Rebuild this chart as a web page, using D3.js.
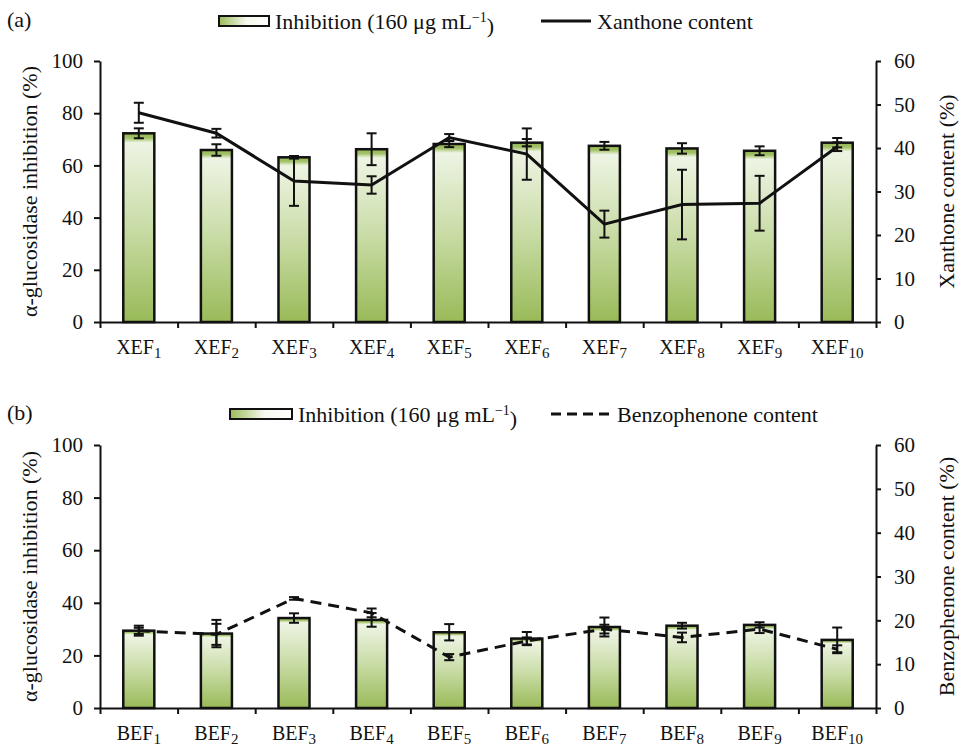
<!DOCTYPE html>
<html>
<head>
<meta charset="utf-8">
<script src="https://cdn.jsdelivr.net/npm/d3@7/dist/d3.min.js"></script>
<style>
  body { margin: 0; background: #fff; }
  svg text { font-family: "Liberation Serif", "Times New Roman", serif; fill: #111; }
</style>
</head>
<body>
<div id="chart"></div>
<script>
// ---- data ----
var catsA = ["XEF1", "XEF2", "XEF3", "XEF4", "XEF5", "XEF6", "XEF7", "XEF8", "XEF9", "XEF10"];
var inhibA = [72.3, 65.9, 63.1, 66.2, 68.2, 68.7, 67.5, 66.5, 65.6, 68.7];
var inhibErrA = [1.9, 2.2, 0.5, 6.1, 1.2, 1.4, 1.5, 2.0, 1.7, 1.8];
var xanthone = [48.1, 43.4, 32.4, 31.5, 42.4, 38.6, 22.5, 27.0, 27.3, 40.3];
var xanthoneErr = [2.3, 1.0, 5.7, 2.0, 0.8, 5.9, 3.1, 8.0, 6.3, 1.0];

var catsB = ["BEF1", "BEF2", "BEF3", "BEF4", "BEF5", "BEF6", "BEF7", "BEF8", "BEF9", "BEF10"];
var inhibB = [29.4, 28.3, 34.2, 33.5, 28.8, 26.4, 30.8, 31.3, 31.6, 25.9];
var inhibErrB = [1.9, 5.2, 1.8, 2.6, 3.1, 2.5, 3.6, 1.1, 1.0, 4.7];
var benzo = [17.6, 16.8, 25.0, 21.7, 11.6, 15.3, 18.0, 16.1, 18.0, 13.4];
var benzoErr = [0.7, 2.4, 0.3, 1.0, 0.7, 0.8, 1.0, 1.1, 0.9, 0.9];

var leftTicks = [0, 20, 40, 60, 80, 100];
var rightTicks = [0, 10, 20, 30, 40, 50, 60];

var W = 959, H = 747;
var svg = d3.select("#chart").append("svg")
    .attr("width", W).attr("height", H);

var defs = svg.append("defs");
// vertical gradient for bars (dark strip at very top, then light, then green)
var g1 = defs.append("linearGradient").attr("id", "barGrad")
    .attr("x1", 0).attr("y1", 0).attr("x2", 0).attr("y2", 1);
[[0, "#93b552"], [0.025, "#a3c267"], [0.05, "#eef4e4"], [0.5, "#c9dca6"], [1, "#99ba58"]]
  .forEach(function (s) { g1.append("stop").attr("offset", s[0]).attr("stop-color", s[1]); });
// horizontal gradient for legend swatch
var g2 = defs.append("linearGradient").attr("id", "legGrad")
    .attr("x1", 0).attr("y1", 0).attr("x2", 1).attr("y2", 0);
[[0, "#9bbb59"], [0.55, "#f4f8ee"], [1, "#ffffff"]]
  .forEach(function (s) { g2.append("stop").attr("offset", s[0]).attr("stop-color", s[1]); });

var x0 = 100, x1 = 876;

function drawPanel(p) {
  var yL = d3.scaleLinear().domain([0, 100]).range([p.bot, p.top]);
  var yR = d3.scaleLinear().domain([0, 60]).range([p.bot, p.top]);
  var x = d3.scaleBand().domain(p.cats).range([x0, x1])
      .paddingInner(0.6).paddingOuter(0.3);
  var xEdge = d3.scaleLinear().domain([0, p.cats.length]).range([x0, x1]);

  var g = svg.append("g");

  // bars
  g.selectAll("rect.bar").data(p.cats).enter().append("rect")
    .attr("class", "bar")
    .attr("x", function (d) { return x(d); })
    .attr("y", function (d, i) { return yL(p.bars[i]); })
    .attr("width", x.bandwidth())
    .attr("height", function (d, i) { return p.bot - yL(p.bars[i]); })
    .attr("fill", "url(#barGrad)")
    .attr("stroke", "#111").attr("stroke-width", 2.5);

  // error bars
  function errBars(vals, errs, scale) {
    var eg = g.append("g").attr("stroke", "#111").attr("stroke-width", 2);
    p.cats.forEach(function (c, i) {
      var cx = x(c) + x.bandwidth() / 2;
      var ya = scale(vals[i] + errs[i]), yb = scale(vals[i] - errs[i]);
      eg.append("line").attr("x1", cx).attr("x2", cx).attr("y1", ya).attr("y2", yb);
      eg.append("line").attr("x1", cx - 5).attr("x2", cx + 5).attr("y1", ya).attr("y2", ya);
      eg.append("line").attr("x1", cx - 5).attr("x2", cx + 5).attr("y1", yb).attr("y2", yb);
    });
  }
  errBars(p.bars, p.barErr, yL);

  // content line
  var line = d3.line()
    .x(function (d, i) { return x(p.cats[i]) + x.bandwidth() / 2; })
    .y(function (d) { return yR(d); });
  g.append("path").datum(p.line)
    .attr("d", line)
    .attr("fill", "none").attr("stroke", "#111").attr("stroke-width", 3)
    .attr("stroke-dasharray", p.dashed ? "11,7" : null);
  errBars(p.line, p.lineErr, yR);

  // left axis
  var la = g.append("g").attr("transform", "translate(" + x0 + ",0)")
    .call(d3.axisLeft(yL).tickValues(leftTicks).tickSize(6).tickSizeOuter(0).tickPadding(11));
  // right axis
  var ra = g.append("g").attr("transform", "translate(" + x1 + ",0)")
    .call(d3.axisRight(yR).tickValues(rightTicks).tickSize(5).tickSizeOuter(0).tickPadding(13));
  // bottom axis: ticks at band edges
  var ba = g.append("g").attr("transform", "translate(0," + p.bot + ")")
    .call(d3.axisBottom(xEdge).tickValues(d3.range(p.cats.length + 1)).tickSize(6)
      .tickSizeOuter(0).tickFormat(""));
  // category labels with subscripts
  var lab = g.append("g").attr("transform", "translate(0," + p.bot + ")")
    .call(d3.axisBottom(x).tickSize(0).tickPadding(18));
  lab.select(".domain").remove();
  lab.selectAll("text").each(function (d) {
    var t = d3.select(this).text(null);
    var m = d.match(/^([A-Z]+)(\d+)$/);
    t.append("tspan").text(m[1]);
    t.append("tspan").attr("dy", "0.22em").attr("font-size", "15px").text(m[2]);
  }).attr("font-size", "20px").attr("fill", "#111");

  [la, ra, ba].forEach(function (a) {
    a.selectAll("path, line").attr("stroke", "#111").attr("stroke-width", 2);
    a.selectAll("text").attr("font-size", "21px").attr("fill", "#111");
  });

  var midY = (p.top + p.bot) / 2;
  svg.append("text").attr("transform", "translate(37," + midY + ") rotate(-90)")
    .attr("text-anchor", "middle").attr("font-size", "22px").text("\u03b1-glucosidase inhibition (%)");
  svg.append("text").attr("transform", "translate(954," + midY + ") rotate(-90)")
    .attr("text-anchor", "middle").attr("font-size", "22px").text(p.rightTitle);

  svg.append("text").attr("x", 7).attr("y", p.labelY).attr("font-size", "22px").text(p.label);

  // legend
  var lg = svg.append("g");
  lg.append("rect").attr("x", p.leg.box).attr("y", p.leg.y - 5).attr("width", p.leg.boxW).attr("height", 10)
    .attr("fill", "url(#legGrad)").attr("stroke", "#111").attr("stroke-width", 2);
  var lt = lg.append("text").attr("x", p.leg.box + p.leg.boxW + 6).attr("y", p.leg.y + 8).attr("font-size", "22px");
  lt.append("tspan").text("Inhibition (160 \u03bcg mL");
  lt.append("tspan").attr("dy", "-0.5em").attr("font-size", "14px").text("\u22121");
  lt.append("tspan").attr("dy", "0.5em").text(")");
  lg.append("line").attr("x1", p.leg.line).attr("x2", p.leg.line + p.leg.lineW)
    .attr("y1", p.leg.y).attr("y2", p.leg.y)
    .attr("stroke", "#111").attr("stroke-width", 3)
    .attr("stroke-dasharray", p.dashed ? "10,6" : null);
  lg.append("text").attr("x", p.leg.line + p.leg.lineW + 6).attr("y", p.leg.y + 8).attr("font-size", "22px")
    .text(p.lineName);
}

drawPanel({
  cats: catsA, bars: inhibA, barErr: inhibErrA, line: xanthone, lineErr: xanthoneErr,
  top: 61, bot: 322, dashed: false, rightTitle: "Xanthone content (%)",
  label: "(a)", labelY: 27, lineName: "Xanthone content",
  leg: { y: 21, box: 219, boxW: 50, line: 541, lineW: 50 }
});
drawPanel({
  cats: catsB, bars: inhibB, barErr: inhibErrB, line: benzo, lineErr: benzoErr,
  top: 445, bot: 708, dashed: true, rightTitle: "Benzophenone content (%)",
  label: "(b)", labelY: 420, lineName: "Benzophenone content",
  leg: { y: 414, box: 230, boxW: 62, line: 551, lineW: 60 }
});
</script>
</body>
</html>
